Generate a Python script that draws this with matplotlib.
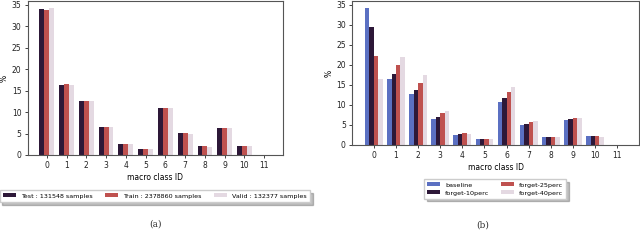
import numpy as np
import matplotlib
matplotlib.use("Agg")
import matplotlib.pyplot as plt

classes = list(range(12))

# Panel (a): split distribution (%)
test_pct = [34.1, 16.4, 12.7, 6.45, 2.55, 1.45, 10.9, 5.05, 2.0, 6.3, 2.2, 0.0]
train_pct = [33.9, 16.5, 12.7, 6.5, 2.57, 1.47, 10.9, 5.05, 2.1, 6.25, 2.2, 0.0]
valid_pct = [34.2, 16.4, 12.6, 6.5, 2.5, 1.4, 10.9, 4.9, 1.8, 6.3, 2.2, 0.0]
split_labels = ["Test : 131548 samples", "Train : 2378860 samples", "Valid : 132377 samples"]

# Panel (b): forgetting variants (%)
baseline = [34.2, 16.5, 12.6, 6.45, 2.56, 1.4, 10.8, 5.0, 2.0, 6.3, 2.2, 0.0]
forget10 = [29.4, 17.8, 13.8, 7.0, 2.7, 1.45, 11.8, 5.3, 2.1, 6.45, 2.3, 0.0]
forget25 = [22.2, 20.0, 15.5, 7.9, 2.98, 1.5, 13.2, 5.7, 2.1, 6.8, 2.3, 0.0]
forget40 = [16.5, 21.9, 17.4, 8.6, 2.8, 1.6, 14.4, 6.0, 2.0, 6.8, 2.0, 0.0]
variant_labels = ["baseline", "forget-10perc", "forget-25perc", "forget-40perc"]

c_blue = "#5b70c2"
c_dark = "#2d1838"
c_red = "#bf514f"
c_light = "#e4d9e2"

FS = 5.5
LFS = 4.6

fig = plt.figure(figsize=(6.4, 2.46), dpi=100)
ax1 = fig.add_axes([27.7/640, 1-155/246, 255.6/640, 154/246])
ax2 = fig.add_axes([352/640, 1-145/246, 287/640, 144/246])

x = np.arange(len(classes))

# Panel (a)
w = 0.25
h1 = []
for i, (vals, col, lab) in enumerate(zip([test_pct, train_pct, valid_pct],
                                          [c_dark, c_red, c_light], split_labels)):
    h1.append(ax1.bar(x + (i - 1) * w, vals, width=w, color=col, label=lab))

# Panel (b)
w2 = 0.2
h2 = []
for i, (vals, col, lab) in enumerate(zip([baseline, forget10, forget25, forget40],
                                          [c_blue, c_dark, c_red, c_light], variant_labels)):
    h2.append(ax2.bar(x + (i - 1.5) * w2, vals, width=w2, color=col, label=lab))

for ax in (ax1, ax2):
    ax.set_xticks(x)
    ax.set_xticklabels([str(c) for c in classes])
    ax.set_yticks([0, 5, 10, 15, 20, 25, 30, 35])
    ax.tick_params(labelsize=FS, length=2.5, width=0.6, pad=2, colors="#222222")
    ax.set_xlabel("macro class ID", fontsize=FS, labelpad=2)
    ax.set_ylabel("%", fontsize=FS, labelpad=2)
    for s in ax.spines.values():
        s.set_color("#555555")
        s.set_linewidth(0.8)

common = dict(loc="upper center", fontsize=LFS, shadow={"alpha": 0.35},
              fancybox=False, frameon=True, edgecolor="#cccccc",
              handlelength=2.0, handleheight=0.6, borderpad=0.5,
              handletextpad=0.8, framealpha=1.0)
fig.legend(handles=h1, labels=split_labels, bbox_to_anchor=(155/640, 1-187/246),
           ncol=3, columnspacing=2.0, **common)
fig.legend(handles=h2, labels=variant_labels, bbox_to_anchor=(495/640, 1-176/246),
           ncol=2, columnspacing=1.8, labelspacing=0.4, **common)

fig.text(155/640, 1-224/246, "(a)", ha="center", va="center",
         fontsize=6.5, family="DejaVu Serif", color="#333333")
fig.text(483/640, 1-225/246, "(b)", ha="center", va="center",
         fontsize=6.5, family="DejaVu Serif", color="#333333")

fig.savefig("out.png", dpi=100)
